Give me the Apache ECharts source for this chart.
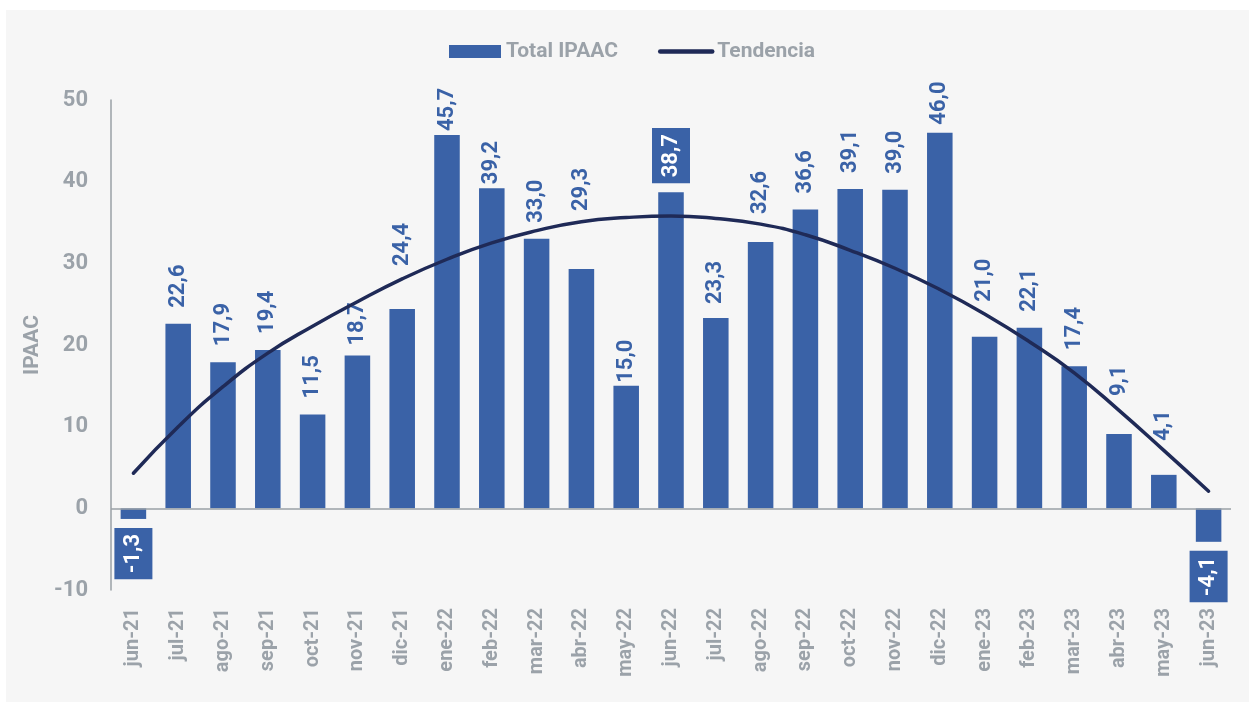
<!DOCTYPE html>
<html>
<head>
<meta charset="utf-8">
<script src="https://cdn.jsdelivr.net/npm/echarts@6/dist/echarts.min.js"></script>
<style>
  html, body { margin: 0; padding: 0; background: #ffffff; }
  #panel { position: absolute; left: 6px; top: 10px; width: 1243px; height: 692px; background: #f6f6f6; }
  #chart { position: absolute; left: 0; top: 0; width: 1249px; height: 702px; }
</style>
</head>
<body>
<div id="panel"></div>
<div id="chart"></div>
<script>
const months = ["jun-21", "jul-21", "ago-21", "sep-21", "oct-21", "nov-21", "dic-21",
  "ene-22", "feb-22", "mar-22", "abr-22", "may-22", "jun-22", "jul-22", "ago-22",
  "sep-22", "oct-22", "nov-22", "dic-22", "ene-23", "feb-23", "mar-23", "abr-23",
  "may-23", "jun-23"];
const totalIpaac = [-1.3, 22.6, 17.9, 19.4, 11.5, 18.7, 24.4, 45.7, 39.2, 33.0, 29.3,
  15.0, 38.7, 23.3, 32.6, 36.6, 39.1, 39.0, 46.0, 21.0, 22.1, 17.4, 9.1, 4.1, -4.1];
// tendencia
const tendencia = [4.3, 10.0, 14.9, 19.0, 22.3, 25.3, 28.1, 30.5, 32.5, 34.0, 35.1,
  35.6, 35.8, 35.5, 34.8, 33.5, 31.6, 29.4, 26.8, 23.8, 20.4, 16.6, 12.0, 7.1, 2.1];
// etiquetas con recuadro
const boxed = ["jun-21", "jun-22", "jun-23"];

const BLUE = "#3a62a7";
const NAVY = "#1f2a57";
const GRAY = "#9ba2a9";
const FONT = "Roboto";

// separacion de etiquetas movidas a mano en el original (px)
const labelGap = {
  "nov-21": 10, "dic-21": 43, "ene-22": 4, "feb-22": 4, "abr-22": 58, "may-22": 3,
  "jul-22": 14, "ago-22": 28, "dic-22": 8, "ene-23": 35, "abr-23": 38, "may-23": 34
};

const fmt = (v) => v.toFixed(1).replace(".", ",");

const barData = totalIpaac.map((v, i) => {
  const neg = v < 0;
  const box = boxed.indexOf(months[i]) >= 0;
  const label = {
    position: neg ? "bottom" : "top",
    align: neg ? "right" : "left",
    distance: box ? 9 : (labelGap[months[i]] != null ? labelGap[months[i]] : 16),
  };
  if (box) {
    label.color = "#ffffff";
    label.backgroundColor = BLUE;
    label.padding = [8, 6];
  }
  return { value: v, label: label };
});

const chart = echarts.init(document.getElementById("chart"));
const option = {
  backgroundColor: "transparent",
  textStyle: { fontFamily: FONT },
  legend: {
    left: 444,
    top: 36,
    itemWidth: 52,
    itemHeight: 13,
    itemGap: 40,
    textStyle: { color: GRAY, fontSize: 21, fontWeight: "bold", fontFamily: FONT },
    data: [
      { name: "Total IPAAC", icon: "rect" },
      { name: "Tendencia", itemStyle: { opacity: 0 }, lineStyle: { width: 4.5, color: NAVY, cap: "round" } }
    ]
  },
  grid: { left: 111, right: 18, top: 100, bottom: 112 },
  xAxis: {
    type: "category",
    data: months,
    axisLine: { show: false, onZero: false },
    axisTick: { show: false },
    axisLabel: {
      rotate: 90,
      margin: 18,
      color: GRAY,
      fontSize: 20,
      fontWeight: "bold",
      fontFamily: FONT
    }
  },
  yAxis: {
    type: "value",
    min: -10,
    max: 50,
    interval: 10,
    name: "IPAAC",
    nameLocation: "middle",
    nameGap: 66,
    nameTextStyle: { color: GRAY, fontSize: 21, fontWeight: "bold", fontFamily: FONT },
    splitLine: { show: false },
    axisTick: { show: false },
    axisLine: { show: true, onZero: false, lineStyle: { color: "#9aa0a6", width: 1.5 } },
    axisLabel: { color: GRAY, fontSize: 22, fontWeight: "bold", fontFamily: FONT, margin: 23 }
  },
  series: [
    {
      name: "Total IPAAC",
      type: "bar",
      data: barData,
      barCategoryGap: "43%",
      itemStyle: { color: BLUE },
      label: {
        show: true,
        rotate: 90,
        verticalAlign: "middle",
        color: BLUE,
        fontSize: 22,
        fontWeight: "bold",
        fontFamily: FONT,
        formatter: (p) => fmt(p.value)
      },
      markLine: {
        silent: true,
        symbol: "none",
        label: { show: false },
        lineStyle: { color: "#9aa0a6", width: 1.5, type: "solid" },
        data: [{ yAxis: 0 }]
      }
    },
    {
      name: "Tendencia",
      type: "line",
      data: tendencia,
      smooth: true,
      symbol: "none",
      lineStyle: { color: NAVY, width: 3.5, cap: "round" },
      itemStyle: { color: NAVY },
      z: 5
    }
  ]
};
chart.setOption(option);
</script>
</body>
</html>
